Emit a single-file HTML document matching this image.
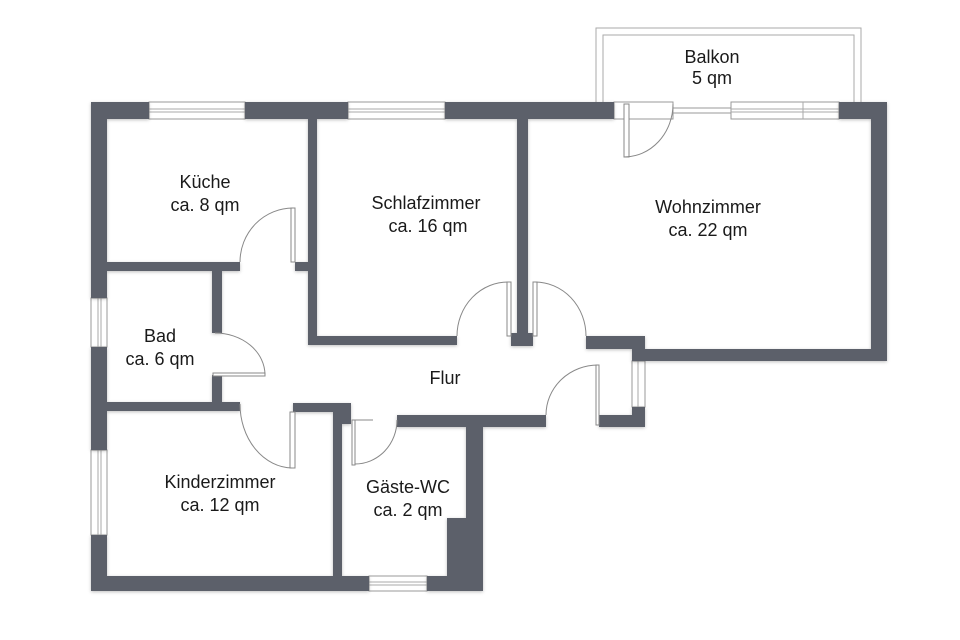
<!DOCTYPE html>
<html><head><meta charset="utf-8"><style>
html,body{margin:0;padding:0;background:#fff;width:960px;height:640px;overflow:hidden}
svg{display:block}
text{font-family:"Liberation Sans",sans-serif;font-size:18px;fill:#1a1a1a;text-anchor:middle}
</style></head><body>
<svg width="960" height="640" viewBox="0 0 960 640" xmlns="http://www.w3.org/2000/svg">
<defs>
<filter id="sh" x="-5%" y="-5%" width="110%" height="110%"><feDropShadow dx="0" dy="1" stdDeviation="1.5" flood-color="#000" flood-opacity="0.25"/></filter>
</defs>
<rect width="960" height="640" fill="#fff"/>
<g fill="none" stroke="#aaa" stroke-width="1">
<path d="M596 102 V28 H861 V102"/>
<path d="M603 102 V35 H854 V102"/>
</g>
<g fill="#fff" stroke="#999" stroke-width="1">
<rect x="149" y="102" width="96" height="17"/>
<rect x="348" y="102" width="97" height="17"/>
<rect x="91" y="298" width="16" height="49"/>
<rect x="91" y="450" width="16" height="85"/>
<rect x="369" y="576" width="58" height="15"/>
<rect x="632" y="361" width="13" height="46"/>
<rect x="614" y="102" width="59" height="17"/>
<rect x="673" y="108" width="58" height="5"/>
<rect x="731" y="102" width="108" height="17"/>
</g>
<g stroke="#aaa" stroke-width="1">
<line x1="149" y1="109" x2="245" y2="109"/><line x1="149" y1="112" x2="245" y2="112"/>
<line x1="348" y1="109" x2="445" y2="109"/><line x1="348" y1="112" x2="445" y2="112"/>
<line x1="98" y1="298" x2="98" y2="347"/><line x1="101" y1="298" x2="101" y2="347"/>
<line x1="98" y1="450" x2="98" y2="535"/><line x1="101" y1="450" x2="101" y2="535"/>
<line x1="369" y1="582" x2="427" y2="582"/><line x1="369" y1="585" x2="427" y2="585"/>
<line x1="731" y1="109" x2="839" y2="109"/><line x1="731" y1="112" x2="839" y2="112"/>
<line x1="803" y1="102" x2="803" y2="119"/>
<line x1="638" y1="361" x2="638" y2="407"/>
</g>
<g fill="#5b616b" filter="url(#sh)">
<rect x="91" y="102" width="58" height="17"/>
<rect x="245" y="102" width="103" height="17"/>
<rect x="445" y="102" width="169" height="17"/>
<rect x="839" y="102" width="48" height="17"/>
<rect x="91" y="102" width="16" height="196"/>
<rect x="91" y="347" width="16" height="103"/>
<rect x="91" y="535" width="16" height="56"/>
<rect x="91" y="576" width="278" height="15"/>
<rect x="427" y="576" width="56" height="15"/>
<rect x="871" y="102" width="16" height="259"/>
<rect x="645" y="349" width="242" height="12"/>
<rect x="632" y="336" width="13" height="25"/>
<rect x="586" y="336" width="59" height="13"/>
<rect x="632" y="407" width="13" height="20"/>
<rect x="599" y="415" width="46" height="12"/>
<rect x="397" y="415" width="149" height="12"/>
<rect x="466" y="415" width="17" height="176"/>
<rect x="447" y="518" width="36" height="73"/>
<rect x="517" y="119" width="11" height="216"/>
<rect x="511" y="333" width="22" height="13"/>
<rect x="308" y="119" width="9" height="226"/>
<rect x="308" y="336" width="149" height="9"/>
<rect x="107" y="262" width="133" height="9"/>
<rect x="295" y="262" width="13" height="9"/>
<rect x="212" y="271" width="10" height="62"/>
<rect x="212" y="375" width="10" height="31"/>
<rect x="107" y="402" width="133" height="9"/>
<rect x="293" y="403" width="58" height="9"/>
<rect x="333" y="403" width="9" height="173"/>
<rect x="342" y="403" width="9" height="21"/>
</g>
<g fill="none" stroke="#888" stroke-width="1">
<rect x="291" y="208" width="4" height="54" fill="#fff"/>
<path d="M240 262 A53 54 0 0 1 293 208"/>
<rect x="507" y="282" width="4" height="54" fill="#fff"/>
<path d="M457 336 A51 54 0 0 1 509 282"/>
<rect x="533" y="282" width="4" height="54" fill="#fff"/>
<path d="M535 282 A51 54 0 0 1 586 336"/>
<rect x="213" y="373" width="52" height="3" fill="#fff"/>
<path d="M215 333 A50 42 0 0 1 265 375"/>
<rect x="290" y="412" width="5" height="56" fill="#fff"/>
<path d="M240 404 A53 64 0 0 0 292 468"/>
<rect x="352" y="420" width="3" height="45" fill="#fff"/>
<line x1="355" y1="420" x2="373" y2="420"/>
<path d="M355 464 A42 44 0 0 0 397 420"/>
<rect x="596" y="365" width="3" height="60" fill="#fff"/>
<path d="M546 415 A52 50 0 0 1 598 365"/>
<rect x="624" y="104" width="5" height="53" fill="#fff"/>
<path d="M673 104 A49 53 0 0 1 624 157"/>
</g>
<text x="712" y="63">Balkon</text>
<text x="712" y="84">5 qm</text>
<text x="205" y="188">Küche</text>
<text x="205" y="211">ca. 8 qm</text>
<text x="426" y="209">Schlafzimmer</text>
<text x="428" y="232">ca. 16 qm</text>
<text x="708" y="213">Wohnzimmer</text>
<text x="708" y="236">ca. 22 qm</text>
<text x="160" y="342">Bad</text>
<text x="160" y="365">ca. 6 qm</text>
<text x="445" y="384">Flur</text>
<text x="220" y="488">Kinderzimmer</text>
<text x="220" y="511">ca. 12 qm</text>
<text x="408" y="493">Gäste-WC</text>
<text x="408" y="516">ca. 2 qm</text>
</svg>
</body></html>
